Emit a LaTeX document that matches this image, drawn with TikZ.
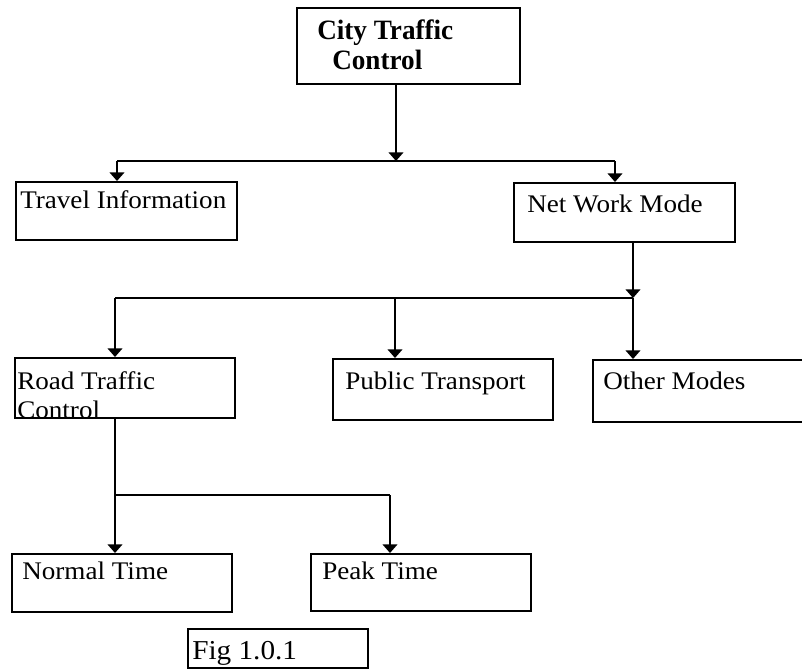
\documentclass[tikz,border=0pt]{standalone}
\usepackage{fontspec}
\setmainfont{Liberation Serif}
\newfontfamily\wideserif{Liberation Serif}[FakeStretch=1.07]
\newfontfamily\titleserif{Liberation Serif}[FakeStretch=0.97]
\usetikzlibrary{arrows.meta,fit}

\tikzset{
  box/.style={draw, line width=1.5pt, inner sep=0pt},
  lbl/.style={anchor=base west, inner sep=0pt, font=\wideserif\fontsize{19}{22}\selectfont},
  ttl/.style={anchor=base west, inner sep=0pt, font=\titleserif\bfseries\fontsize{21}{25}\selectfont},
  link/.style={line width=1.5pt},
  arr/.style={link, -{Triangle[width=11pt,length=6.5pt]}}
}

\begin{document}
\begin{tikzpicture}[x=0.75pt,y=-0.75pt]
  \useasboundingbox (0,0) rectangle (802,669);

  % boxes
  \node[box, fit={(297,8)(520,84)}]    (city)   {};
  \node[box, fit={(16,182)(237,240)}]  (travel) {};
  \node[box, fit={(514,183)(735,242)}] (net)    {};
  \node[box, fit={(15,358)(235,418)}]  (road)   {};
  \node[box, fit={(333,359)(553,420)}] (public) {};
  \node[box, fit={(593,360)(812,422)}] (other)  {};
  \node[box, fit={(12,554)(232,612)}]  (normal) {};
  \node[box, fit={(311,554)(531,611)}] (peak)   {};
  \node[box, fit={(188,629)(368,668)}] (fig)    {};

  % texts
  \node[ttl] (t1a) at (317,39) {City Traffic};
  \node[ttl] (t1b) at (332,69) {Control};
  \node[lbl] (t2)  at (20,208)  {Travel Information};
  \node[lbl] (t3)  at (527,212) {Net Work Mode};
  \node[lbl] (t4a) at (17,389)  {Road Traffic};
  \node[lbl] (t4b) at (17,418)  {Control};
  \node[lbl] (t5)  at (345,389) {Public Transport};
  \node[lbl] (t6)  at (603,389) {Other Modes};
  \node[lbl] (t7)  at (22,579)  {Normal Time};
  \node[lbl] (t8)  at (322,579) {Peak Time};
  \node[lbl, font=\wideserif\fontsize{20.5}{24}\selectfont] (t9) at (192,659) {Fig 1.0.1};

  % junction points
  \coordinate (j1)  at (396,161);
  \coordinate (j1l) at (117,161);
  \coordinate (j1r) at (615,161);
  \coordinate (j2)  at (633,298);
  \coordinate (j2l) at (115,298);
  \coordinate (j2m) at (395,298);
  \coordinate (j3)  at (115,495);
  \coordinate (j3r) at (390,495);

  % level 1
  \draw[arr]  (city.south -| j1) -- (j1);
  \draw[link] (j1l) -- (j1r);
  \draw[arr]  (j1l) -- (j1l |- travel.north);
  \draw[arr]  (j1r) -- (j1r |- net.north);

  % level 2
  \draw[arr]  (net.south -| j2) -- (j2);
  \draw[link] (j2l) -- (j2);
  \draw[arr]  (j2l) -- (j2l |- road.north);
  \draw[arr]  (j2m) -- (j2m |- public.north);
  \draw[arr]  (j2) -- (j2 |- other.north);

  % level 3
  \draw[link] (road.south -| j3) -- (j3) -- (j3r);
  \draw[arr]  (j3) -- (j3 |- normal.north);
  \draw[arr]  (j3r) -- (j3r |- peak.north);
\end{tikzpicture}
\end{document}
